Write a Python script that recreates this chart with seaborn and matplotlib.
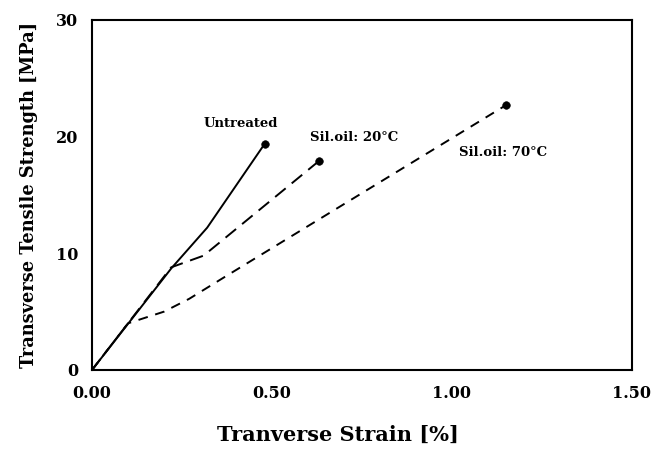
import matplotlib
matplotlib.use("Agg")
import matplotlib.pyplot as plt
import seaborn as sns
import pandas as pd

# Stress-strain curves (strain in %, strength in MPa)
untreated_strain = [0.00, 0.22, 0.32, 0.48]
untreated_stress = [0.0, 8.7, 12.2, 19.4]

sil20_strain = [0.00, 0.22, 0.31, 0.63]
sil20_stress = [0.0, 8.8, 9.8, 17.9]

sil70_strain = [0.00, 0.10, 0.14, 0.20, 0.27, 0.37, 1.15]
sil70_stress = [0.0, 4.0, 4.4, 5.0, 6.1, 8.0, 22.7]

series_names = ["Untreated", "Sil.oil: 20°C", "Sil.oil: 70°C"]
label_pos = [(0.31, 21.1), (0.605, 19.9), (1.02, 18.6)]

x_ticks = [0.0, 0.5, 1.0, 1.5]
x_ticklabels = ["0.00", "0.50", "1.00", "1.50"]
y_ticks = [0, 10, 20, 30]

frames = []
for name, xs, ys in zip(series_names,
                        [untreated_strain, sil20_strain, sil70_strain],
                        [untreated_stress, sil20_stress, sil70_stress]):
    frames.append(pd.DataFrame({"strain": xs, "stress": ys, "series": name}))
df = pd.concat(frames, ignore_index=True)
ends = df.groupby("series", sort=False).tail(1)

sns.set_style("white")
plt.rcParams["font.family"] = ["DejaVu Serif"]
plt.rcParams["font.weight"] = "bold"
plt.rcParams["text.color"] = "black"
plt.rcParams["axes.labelcolor"] = "black"

fig = plt.figure(figsize=(6.51, 4.50), dpi=100)
ax = fig.add_axes([0.1413, 0.1778, 0.8295, 0.7778])

sns.lineplot(data=df, x="strain", y="stress", style="series",
             dashes={"Untreated": "", "Sil.oil: 20°C": (7, 4), "Sil.oil: 70°C": (5, 4)},
             color="black", linewidth=1.4, sort=False, estimator=None,
             legend=False, ax=ax)
sns.scatterplot(data=ends, x="strain", y="stress", color="black", s=30,
                edgecolor="black", legend=False, ax=ax, zorder=3)

for name, (lx, ly) in zip(series_names, label_pos):
    ax.text(lx, ly, name, fontsize=9.5, fontweight="bold", ha="left",
            va="center", color="black")

ax.set_xlim(0, 1.5)
ax.set_ylim(0, 30)
ax.set_xticks(x_ticks)
ax.set_xticklabels(x_ticklabels)
ax.set_yticks(y_ticks)
ax.tick_params(axis="both", direction="in", length=7, width=1.2,
               labelsize=11.5, colors="black")
ax.tick_params(axis="x", pad=11)
ax.tick_params(axis="y", pad=10)
for lab in ax.get_xticklabels() + ax.get_yticklabels():
    lab.set_fontweight("bold")

for sp in ax.spines.values():
    sp.set_visible(True)
    sp.set_color("black")
    sp.set_linewidth(1.5)

ax.set_xlabel("Tranverse Strain [%]", fontsize=15, fontweight="bold",
              color="black")
ax.xaxis.set_label_coords(0.456, -0.158)
ax.set_ylabel("Transverse Tensile Strength [MPa]", fontsize=12.8,
              fontweight="bold", labelpad=13, color="black")

fig.savefig("out.png", dpi=100, facecolor="white")
